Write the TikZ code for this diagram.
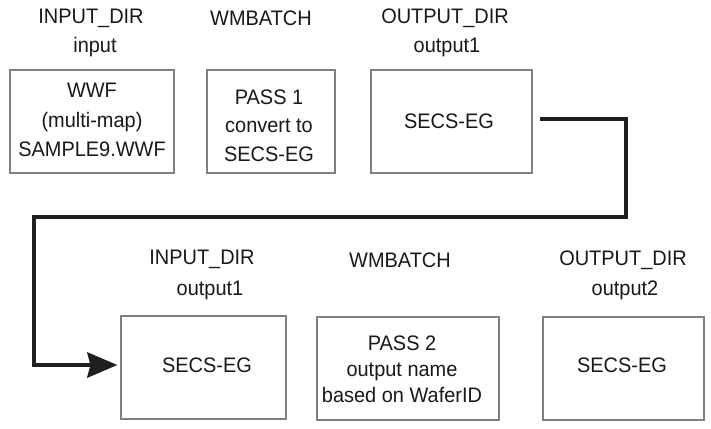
\documentclass[tikz,border=0pt]{standalone}
\usepackage{fontspec}
\setmainfont[FakeStretch=0.95]{Liberation Sans}
\usetikzlibrary{arrows.meta}
\begin{document}
\begin{tikzpicture}[x=1pt,y=-1pt,
  box/.style={draw=black!50,line width=1.2pt,minimum height=103pt,inner sep=0pt},
  lbl/.style={inner sep=0pt,align=center,text=black!90,font=\fontsize{21}{29}\selectfont},
  conn/.style={draw=black!88,line width=4.3pt,-{Stealth[length=30pt,width=25pt,inset=3pt]}}]
\useasboundingbox[fill=white] (0,0) rectangle (711,428);
% top row
\node[lbl] (h1) at (91,18) {INPUT\_DIR};
\node[lbl] (s1) at (95,47) {input};
\node[lbl] (h2) at (261,18) {WMBATCH};
\node[lbl] (h3) at (445,18) {OUTPUT\_DIR};
\node[lbl] (s3) at (447,47) {output1};
\node[box,minimum width=164pt] (b1) at (92,121.5) {};
\node[box,minimum width=128pt] (b2) at (271,121.5) {};
\node[box,minimum width=161pt] (b3) at (451.5,121.5) {};
\node[lbl,font=\fontsize{21}{29.5}\selectfont] (t1) at (92,120) {WWF\\(multi-map)\\SAMPLE9.WWF};
\node[lbl,font=\fontsize{21}{28.5}\selectfont] (t2) at (269,125.5) {PASS 1\\convert to\\SECS-EG};
\node[lbl] (t3) at (449,121) {SECS-EG};
% bottom row
\node[lbl] (h4) at (202,259) {INPUT\_DIR};
\node[lbl] (s4) at (210,290) {output1};
\node[lbl] (h5) at (400,260) {WMBATCH};
\node[lbl] (h6) at (623,260) {OUTPUT\_DIR};
\node[lbl] (s6) at (625,290) {output2};
\node[box,minimum width=165pt] (b4) at (203.5,367.5) {};
\node[box,minimum width=182pt] (b5) at (408,368.5) {};
\node[box,minimum width=161pt] (b6) at (623.5,368.5) {};
\node[lbl] (t4) at (207,365) {SECS-EG};
\node[lbl,font=\fontsize{21}{26}\selectfont] (t5) at (402,369) {PASS 2\\output name\\based on WaferID};
\node[lbl] (t6) at (622,365) {SECS-EG};
% connector
\coordinate (r1) at (626,119);
\coordinate (r2) at (626,217);
\coordinate (l1) at (34,217);
\coordinate (l2) at (34,365);
\draw[conn] ([shift={(7,-2.5)}]b3.east) -- (r1) -- (r2) -- (l1) -- (l2) -- ([xshift=-3pt]b4.west |- l2);
\end{tikzpicture}
\end{document}
